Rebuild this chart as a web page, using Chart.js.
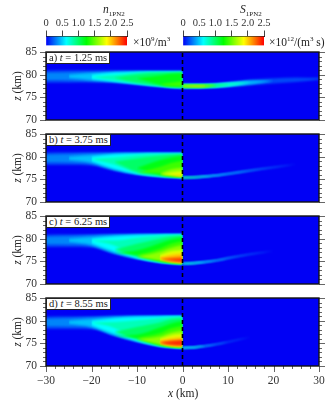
<!DOCTYPE html>
<html>
<head>
<meta charset="utf-8">
<script src="https://cdn.jsdelivr.net/npm/chart.js@4/dist/chart.umd.min.js"></script>
<style>
  html, body { margin: 0; padding: 0; background: #fff; }
  #page { position: relative; width: 335px; height: 406px; overflow: hidden; font-family: "Liberation Serif", serif; color: #222; }
  canvas { position: absolute; }
  .t { position: absolute; white-space: nowrap; font-size: 11.5px; line-height: 12px; }
  .t sub, .t sup { font-size: 7px; line-height: 0; }
  .box { background: #fff; border: 1px solid #222; padding: 0 2px; font-size: 10.5px; line-height: 10px; height: 10px; }
  .rot { transform: translate(-50%, -50%) rotate(-90deg); }
</style>
</head>
<body>
<div id="page">
  <canvas id="cb1" width="120" height="34" style="left:30px;top:14px"></canvas>
  <canvas id="cb2" width="120" height="34" style="left:167px;top:14px"></canvas>
  <canvas id="pa" width="335" height="84" style="left:0;top:44px"></canvas>
  <canvas id="pb" width="335" height="84" style="left:0;top:126px"></canvas>
  <canvas id="pc" width="335" height="84" style="left:0;top:208px"></canvas>
  <canvas id="pd" width="335" height="116" style="left:0;top:290px"></canvas>

  <div class="t" style="left:103px;top:3px"><i>n</i><sub>1PN2</sub></div>
  <div class="t" style="left:240px;top:3px"><i>S</i><sub>1PN2</sub></div>
  <div class="t" style="left:133px;top:36px">×10<sup>9</sup>/m<sup>3</sup></div>
  <div class="t" style="left:269px;top:36px">×10<sup>12</sup>/(m<sup>3</sup> s)</div>

  <div class="t box" style="left:46px;top:52px">a) <i>t</i> = 1.25 ms</div>
  <div class="t box" style="left:46px;top:134px">b) <i>t</i> = 3.75 ms</div>
  <div class="t box" style="left:46px;top:216px">c) <i>t</i> = 6.25 ms</div>
  <div class="t box" style="left:46px;top:298px">d) <i>t</i> = 8.55 ms</div>

  <div class="t rot" style="left:17px;top:86px"><i>z</i> (km)</div>
  <div class="t rot" style="left:17px;top:168px"><i>z</i> (km)</div>
  <div class="t rot" style="left:17px;top:250px"><i>z</i> (km)</div>
  <div class="t rot" style="left:17px;top:332px"><i>z</i> (km)</div>
  <div class="t" style="left:168px;top:387px"><i>x</i> (km)</div>
</div>

<script>
// colour scale
const cmapValues = [0, 0.625, 1.25, 1.875, 2.5];
const cmapColors = [[0, 0, 245], [0, 255, 255], [0, 255, 0], [255, 255, 0], [255, 0, 0]];

const colorTicks = [0, 0.5, 1, 1.5, 2, 2.5];
const zTicks = [70, 75, 80, 85];
const zMinor = [71, 72, 73, 74, 76, 77, 78, 79, 81, 82, 83, 84];
const xTicks = [-30, -20, -10, 0, 10, 20, 30];
const xMinor = [-28, -26, -24, -22, -18, -16, -14, -12, -8, -6, -4, -2, 2, 4, 6, 8, 12, 14, 16, 18, 22, 24, 26, 28];

// contour levels (same levels both halves)
const levels = [0.1, 0.25, 0.4, 0.55, 0.7, 0.9, 1.1, 1.3, 1.5, 1.7, 1.9, 2.1, 2.3, 2.5];
const xLeft = [-30, -25, -20, -15, -10, -5, -2.5, 0];
const xRight = [0, 2.5, 5, 7.5, 10, 15, 20, 25, 30];

// a row per level, altitudes in km. left rows end at x=0, right rows start at x=0
const aLeftLow = [
  [78.2, 78.2, 78.25, 78.15, 77.7, 77.2, 77.0, 76.9],
  [78.8, 78.75, 78.55, 78.3, 77.85, 77.35, 77.1, 77.0],
  [79.3, 78.85, 78.45, 77.95, 77.45, 77.2, 77.1],
  [79.05, 78.55, 78.0, 77.5, 77.25, 77.15],
  [79.5, 78.7, 78.1, 77.55, 77.3, 77.2],
  [79.3, 78.2, 77.6, 77.35, 77.25],
  [79.2, 77.8, 77.45, 77.35],
  [77.85, 77.5, 77.45],
];
const aLeftUp = [
  [80.9, 80.95, 80.95, 80.95, 80.95, 80.95, 80.95, 80.9],
  [80.4, 80.5, 80.6, 80.7, 80.75, 80.75, 80.75, 80.75],
  [79.95, 80.3, 80.55, 80.65, 80.65, 80.65, 80.65],
  [79.95, 80.4, 80.55, 80.6, 80.6, 80.6],
  [79.5, 79.9, 80.45, 80.55, 80.55, 80.55],
  [79.3, 80.05, 80.4, 80.45, 80.5],
  [79.2, 79.8, 80.2, 80.3],
  [77.85, 78.2, 78.6],
];
const aRightLow = [
  [76.95, 76.95, 77.0, 77.1, 77.25, 77.65, 78.05, 78.4, 78.9],
  [77.05, 77.05, 77.1, 77.2, 77.4, 77.85, 78.65],
  [77.1, 77.1, 77.15, 77.25, 77.45, 78.0, 78.65],
  [77.15, 77.15, 77.2, 77.3, 77.5, 78.3],
  [77.2, 77.2, 77.25, 77.35, 77.55, 78.3],
  [77.25, 77.25, 77.3, 77.4, 77.75],
  [77.3, 77.3, 77.35, 77.6],
  [77.33, 77.32, 77.38, 77.6],
  [77.36, 77.35, 77.4, 77.6],
  [77.42, 77.38, 77.43, 77.58],
  [77.48, 77.42, 77.46],
];
const aRightUp = [
  [78.0, 78.0, 78.05, 78.15, 78.4, 78.95, 79.2, 79.4, 79.3],
  [77.9, 77.9, 77.9, 78.0, 78.2, 78.7, 78.65],
  [77.85, 77.85, 77.85, 77.95, 78.15, 78.55, 78.65],
  [77.8, 77.8, 77.8, 77.9, 78.1, 78.3],
  [77.75, 77.75, 77.75, 77.85, 78.05, 78.3],
  [77.7, 77.7, 77.7, 77.8, 77.85],
  [77.65, 77.65, 77.65, 77.6],
  [77.62, 77.63, 77.63, 77.6],
  [77.59, 77.6, 77.6, 77.6],
  [77.55, 77.57, 77.57, 77.58],
  [77.5, 77.53, 77.54],
];

const bLeftLow = [
  [78.15, 78.15, 78.05, 76.85, 75.95, 75.45, 75.3, 75.15],
  [78.75, 78.7, 78.35, 77.0, 76.05, 75.55, 75.38, 75.22],
  [79.3, 78.7, 77.15, 76.15, 75.62, 75.45, 75.3],
  [79.05, 77.4, 76.25, 75.68, 75.5, 75.35],
  [79.5, 78.2, 76.4, 75.75, 75.55, 75.4],
  [78.9, 76.7, 75.85, 75.6, 75.45],
  [77.5, 76.0, 75.65, 75.5],
  [76.5, 76.3, 75.75, 75.55],
  [76.2, 75.85, 75.6],
  [75.95, 75.9, 75.65],
  [75.75, 75.75],
];
const bLeftUp = [
  [80.9, 80.95, 81, 81, 81, 81, 81, 81],
  [80.4, 80.55, 80.7, 80.8, 80.85, 80.85, 80.85, 80.85],
  [79.95, 80.3, 80.65, 80.7, 80.75, 80.75, 80.75],
  [79.95, 80.4, 80.6, 80.65, 80.65, 80.65],
  [79.5, 79.8, 80.35, 80.6, 80.6, 80.6],
  [78.9, 79.6, 80.2, 80.45, 80.55],
  [77.5, 79.2, 79.8, 80.2],
  [76.5, 77.7, 78.6, 79.1],
  [76.2, 77.2, 77.6],
  [75.95, 76.5, 76.8],
  [75.75, 76.1],
];
const bRightLow = [
  [75.2, 75.28, 75.45, 75.68, 76.0, 76.75, 77.45, 78.3],
  [75.25, 75.33, 75.5, 75.73, 76.08, 76.85, 77.65],
  [75.28, 75.36, 75.54, 75.77, 76.12, 76.95],
  [75.3, 75.38, 75.56, 75.8, 76.2],
  [75.32, 75.4, 75.58, 75.86],
  [75.34, 75.41, 75.62],
  [75.36, 75.45],
];
const bRightUp = [
  [75.58, 75.65, 75.82, 76.05, 76.4, 77.15, 77.85, 78.3],
  [75.52, 75.58, 75.75, 75.98, 76.33, 77.05, 77.65],
  [75.48, 75.55, 75.71, 75.94, 76.28, 76.95],
  [75.46, 75.52, 75.69, 75.92, 76.2],
  [75.44, 75.5, 75.66, 75.86],
  [75.42, 75.49, 75.62],
  [75.4, 75.45],
];

const cLeftLow = [
  [78.15, 78.15, 78.05, 76.6, 75.45, 74.65, 74.42, 74.28],
  [78.75, 78.7, 78.35, 76.75, 75.55, 74.72, 74.48, 74.32],
  [79.3, 78.65, 76.9, 75.65, 74.78, 74.52, 74.36],
  [79.05, 77.2, 75.75, 74.82, 74.55, 74.4],
  [79.6, 78.5, 75.9, 74.86, 74.6, 74.45],
  [77.6, 76.1, 74.95, 74.65, 74.5],
  [76.9, 76.4, 75.05, 74.7, 74.52],
  [76.4, 75.15, 74.75, 74.56],
  [76.0, 75.25, 74.8, 74.6],
  [75.4, 74.88, 74.65],
  [75.5, 74.95, 74.7],
  [75.6, 75.0, 74.75],
  [75.3, 75.2, 75.0],
];
const cLeftUp = [
  [80.9, 80.95, 81, 81.05, 81.1, 81.1, 81.1, 81.1],
  [80.4, 80.55, 80.75, 80.9, 81, 81, 81, 81],
  [79.95, 80.3, 80.7, 80.85, 80.9, 80.9, 80.9],
  [79.95, 80.4, 80.7, 80.8, 80.85, 80.85],
  [79.6, 79.6, 80.2, 80.7, 80.75, 80.8],
  [77.6, 78.9, 80.0, 80.5, 80.65],
  [76.9, 77.4, 79.0, 79.8, 80.3],
  [76.4, 77.8, 78.9, 79.5],
  [76.0, 77.1, 78.0, 78.6],
  [76.4, 77.2, 77.5],
  [75.9, 76.5, 76.8],
  [75.6, 75.9, 76.1],
  [75.3, 75.4, 75.5],
];
const cRightLow = [
  [74.28, 74.43, 74.68, 75.03, 75.52, 76.42, 77.3],
  [74.33, 74.48, 74.73, 75.08, 75.58, 76.6],
  [74.35, 74.5, 74.76, 75.11, 75.7],
  [74.37, 74.52, 74.78, 75.2],
  [74.39, 74.54, 74.85],
];
const cRightUp = [
  [74.62, 74.77, 75.02, 75.37, 75.88, 76.78, 77.3],
  [74.57, 74.72, 74.97, 75.32, 75.82, 76.6],
  [74.55, 74.7, 74.94, 75.29, 75.7],
  [74.53, 74.68, 74.92, 75.2],
  [74.51, 74.66, 74.85],
];

const dLeftLow = [
  [78.15, 78.15, 78.1, 76.6, 75.25, 74.25, 74.0, 73.85],
  [78.75, 78.7, 78.4, 76.72, 75.35, 74.32, 74.05, 73.9],
  [79.3, 78.65, 76.85, 75.45, 74.38, 74.1, 73.95],
  [79.05, 77.15, 75.55, 74.42, 74.14, 73.98],
  [79.6, 78.4, 75.7, 74.48, 74.18, 74.02],
  [77.5, 76.0, 74.55, 74.22, 74.06],
  [76.7, 76.15, 74.62, 74.26, 74.1],
  [76.2, 74.7, 74.3, 74.14],
  [75.9, 74.8, 74.35, 74.18],
  [74.9, 74.4, 74.22],
  [75.0, 74.5, 74.35],
  [75.1, 74.6, 74.45],
  [75.1, 74.75, 74.55],
];
const dLeftUp = [
  [80.9, 80.95, 81, 81.1, 81.15, 81.15, 81.15, 81.15],
  [80.4, 80.55, 80.75, 80.95, 81.05, 81.05, 81.05, 81.05],
  [79.95, 80.3, 80.7, 80.9, 80.95, 80.95, 80.95],
  [79.95, 80.5, 80.75, 80.85, 80.9, 80.9],
  [79.6, 79.7, 80.1, 80.6, 80.8, 80.85],
  [77.5, 78.6, 79.6, 80.3, 80.6],
  [76.7, 76.9, 78.5, 79.4, 79.9],
  [76.2, 77.2, 78.3, 78.9],
  [75.9, 76.5, 77.4, 77.9],
  [76.0, 76.8, 77.1],
  [75.7, 76.2, 76.4],
  [75.3, 75.7, 75.85],
  [75.1, 75.4, 75.6],
];
const dRightLow = [
  [73.83, 73.93, 74.23, 74.63, 75.13, 76.4],
  [73.88, 73.98, 74.28, 74.68, 75.3],
  [73.9, 74.0, 74.31, 74.8],
  [73.92, 74.02, 74.4],
  [73.94, 74.04, 74.4],
];
const dRightUp = [
  [74.17, 74.27, 74.57, 74.97, 75.47, 76.4],
  [74.12, 74.22, 74.52, 74.92, 75.3],
  [74.1, 74.2, 74.49, 74.8],
  [74.08, 74.18, 74.4],
  [74.06, 74.16, 74.4],
];

const serif = '"Liberation Serif", serif';
const textColor = '#333';

function colorAt(v) {
  let i = 0;
  while (i < cmapValues.length - 2 && v > cmapValues[i + 1]) i++;
  const f = Math.min(1, (v - cmapValues[i]) / (cmapValues[i + 1] - cmapValues[i]));
  const c = cmapColors[i].map((a, k) => Math.round(a + (cmapColors[i + 1][k] - a) * f));
  return `rgb(${c[0]},${c[1]},${c[2]})`;
}

// ticks and frame go on top, the axis itself only prints the labels
const framePlugin = {
  id: 'frame',
  beforeDatasetsDraw(chart) {
    const { ctx, chartArea: a } = chart;
    ctx.fillStyle = colorAt(0);
    ctx.fillRect(a.left, a.top, a.right - a.left, a.bottom - a.top);
    // soften the band edges, the original is a smooth field
    ctx.save();
    ctx.filter = 'blur(0.8px)';
  },
  beforeDatasetDraw(chart, args) {
    if (args.index === chart.data.datasets.length - 1) chart.ctx.filter = 'none';
  },
  afterDatasetsDraw(chart) {
    chart.ctx.restore();
  },
  afterDraw(chart, args, opts) {
    const { ctx, chartArea: a, scales } = chart;
    ctx.save();
    ctx.strokeStyle = '#666';
    ctx.lineWidth = 1;
    const ht = (z, len) => {
      const y = Math.round(scales.y.getPixelForValue(z)) + 0.5;
      ctx.beginPath();
      ctx.moveTo(a.left - len, y); ctx.lineTo(a.left, y);
      ctx.moveTo(a.right, y); ctx.lineTo(a.right + len, y);
      ctx.stroke();
    };
    zTicks.forEach(z => ht(z, 6));
    zMinor.forEach(z => ht(z, 3));
    if (opts.bottom) {
      const vt = (x, len) => {
        const px = Math.round(scales.x.getPixelForValue(x)) + 0.5;
        ctx.beginPath();
        ctx.moveTo(px, a.bottom); ctx.lineTo(px, a.bottom + len);
        ctx.stroke();
      };
      xTicks.forEach(x => vt(x, 6));
      xMinor.forEach(x => vt(x, 3));
    }
    ctx.strokeStyle = '#111';
    ctx.lineWidth = 1.4;
    ctx.strokeRect(a.left, a.top, a.right - a.left, a.bottom - a.top);
    ctx.restore();
  }
};

function bandDatasets(xs, lowRows, upRows, alignEnd, start) {
  const out = [];
  lowRows.forEach((low, i) => {
    const up = upRows[i];
    const px = alignEnd ? xs.slice(-low.length) : xs.slice(0, low.length);
    const base = { pointRadius: 0, borderWidth: 0, cubicInterpolationMode: 'monotone', order: 500 - start - i };
    out.push({ ...base, data: low.map((z, k) => ({ x: px[k], y: z })), fill: false });
    const mid = (levels[i] + levels[i + 1]) / 2;
    out.push({ ...base, data: up.map((z, k) => ({ x: px[k], y: z })), fill: '-1', backgroundColor: colorAt(mid) });
  });
  return out;
}

function renderPanel(id, leftLow, leftUp, rightLow, rightUp, showX) {
  const datasets = [
    ...bandDatasets(xLeft, leftLow, leftUp, true, 0),
    ...bandDatasets(xRight, rightLow, rightUp, false, 100),
    {
      data: [{ x: 0, y: 70 }, { x: 0, y: 85 }],
      borderColor: '#000', borderWidth: 1.6, borderDash: [4, 3], pointRadius: 0, fill: false, order: -1
    }
  ];
  return new Chart(document.getElementById(id), {
    type: 'line',
    data: { datasets },
    plugins: [framePlugin],
    options: {
      responsive: false,
      animation: false,
      layout: { autoPadding: false, padding: { top: 8, bottom: showX ? 0 : 8, right: 16, left: 0 } },
      plugins: { legend: { display: false }, tooltip: { enabled: false }, frame: { bottom: showX } },
      scales: {
        x: {
          type: 'linear', min: -30, max: 30, display: showX,
          grid: { display: false, drawTicks: false }, border: { display: false },
          afterFit: s => { if (showX) s.height = 40; s.paddingLeft = 0; s.paddingRight = 0; },
          ticks: {
            stepSize: 10, padding: 8, color: textColor, maxRotation: 0,
            font: { family: serif, size: 11.5 },
            callback: v => v < 0 ? '\u2212' + (-v) : String(v)
          }
        },
        y: {
          min: 70, max: 85,
          grid: { display: false, drawTicks: false }, border: { display: false },
          afterFit: s => { s.width = 46; s.paddingTop = 0; s.paddingBottom = 0; },
          ticks: { stepSize: 5, padding: 9, color: textColor, font: { family: serif, size: 11.5 } }
        }
      }
    }
  });
}

function renderColorbar(id) {
  return new Chart(document.getElementById(id), {
    type: 'bar',
    data: {
      labels: [''],
      datasets: [{
        data: [[colorTicks[0], colorTicks[colorTicks.length - 1]]],
        barPercentage: 1,
        categoryPercentage: 1,
        backgroundColor: ctx => {
          const { chart } = ctx;
          if (!chart.chartArea) return colorAt(0);
          const sx = chart.scales.x;
          const g = chart.ctx.createLinearGradient(sx.getPixelForValue(0), 0, sx.getPixelForValue(2.5), 0);
          cmapValues.forEach(v => g.addColorStop(v / 2.5, colorAt(v)));
          return g;
        }
      }]
    },
    options: {
      indexAxis: 'y',
      responsive: false,
      animation: false,
      layout: { autoPadding: false, padding: { left: 16, right: 23, top: 0, bottom: 2.5 } },
      plugins: { legend: { display: false }, tooltip: { enabled: false } },
      scales: {
        x: {
          position: 'top', min: 0, max: 2.5,
          grid: { drawOnChartArea: false, tickLength: 6, tickColor: '#444' },
          border: { color: '#222' },
          afterFit: s => { s.height = 22.5; s.paddingLeft = 0; s.paddingRight = 0; },
          ticks: {
            stepSize: 0.5, padding: 1, color: textColor, maxRotation: 0, autoSkip: false,
            font: { family: serif, size: 10.5 },
            callback: v => v === 0 ? '0' : v.toFixed(1)
          }
        },
        y: { display: false }
      }
    }
  });
}

renderColorbar('cb1');
renderColorbar('cb2');
renderPanel('pa', aLeftLow, aLeftUp, aRightLow, aRightUp, false);
renderPanel('pb', bLeftLow, bLeftUp, bRightLow, bRightUp, false);
renderPanel('pc', cLeftLow, cLeftUp, cRightLow, cRightUp, false);
renderPanel('pd', dLeftLow, dLeftUp, dRightLow, dRightUp, true);
</script>
</body>
</html>
